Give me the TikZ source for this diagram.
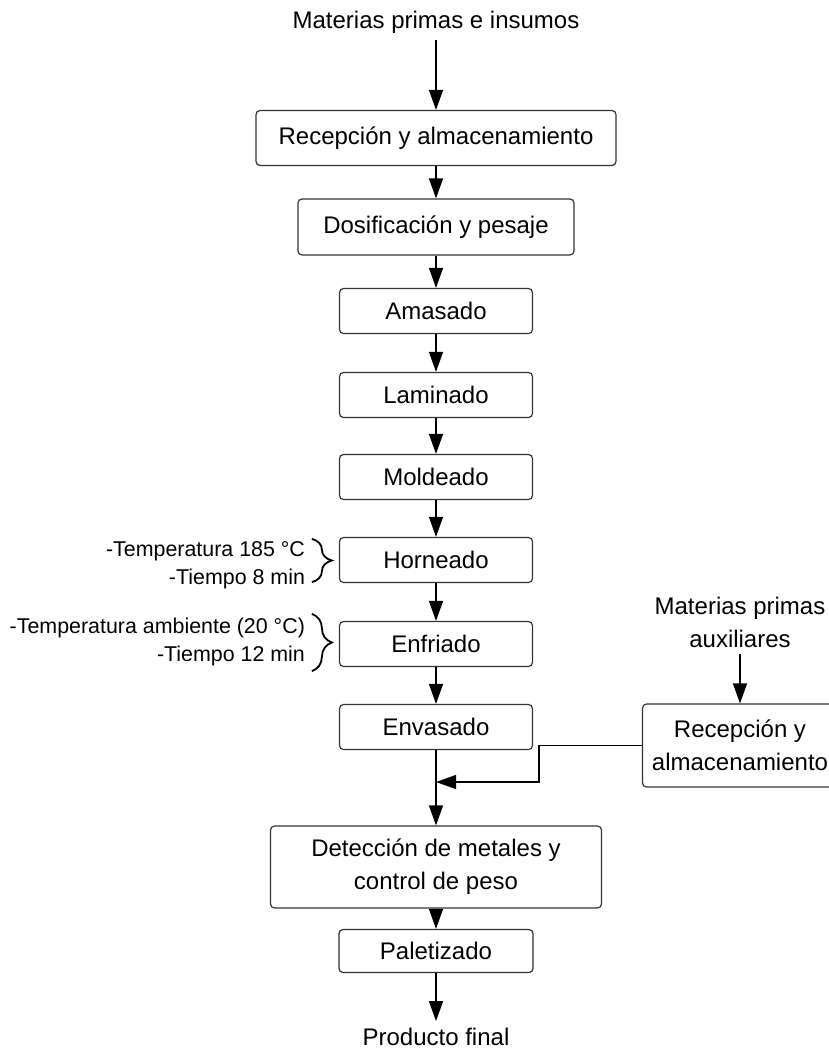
\documentclass[tikz,border=0pt]{standalone}
\usepackage{fontspec}
\setmainfont{Liberation Sans}
\usetikzlibrary{arrows.meta,decorations.pathreplacing}
\tikzstyle{arrow} = [-{Triangle[width=7pt,length=10pt]},line width=0.6pt]
\tikzstyle{proc} = [draw=black!80,line width=0.6pt,rounded corners=2pt,align=center,font=\fontsize{12}{16.5}\selectfont]
\tikzstyle{stage} = [proc,minimum width=96.5pt,minimum height=22.5pt]
\tikzstyle{plain} = [align=center,font=\fontsize{12}{16.5}\selectfont]
\tikzstyle{note} = [anchor=east,align=right,font=\fontsize{10.7}{13.8}\selectfont]
\tikzstyle{curly} = [decorate,decoration={brace,amplitude=10pt},line width=0.9pt]

\begin{document}
\begin{tikzpicture}[x=0.5pt,y=-0.5pt]
        \clip (0,0) rectangle (829,1049);
        % main line
        \node[plain] at (436,22) (insumos) {Materias primas e insumos};
        \node[proc, minimum width=180pt, minimum height=27.5pt] at (436,138) (recepcion) {Recepción y almacenamiento};
        \node[proc, minimum width=138pt, minimum height=28pt] at (436,227) (dosif) {Dosificación y pesaje};
        \node[stage] at (436,311) (amasado) {Amasado};
        \node[stage] at (436,395) (laminado) {Laminado};
        \node[stage] at (436,477) (moldeado) {Moldeado};
        \node[stage] at (436,560) (horneado) {Horneado};
        \node[stage] at (436,644) (enfriado) {Enfriado};
        \node[stage] at (436,727) (envasado) {Envasado};
        \node[proc, minimum width=165.5pt, minimum height=41pt] at (436,867) (deteccion) {Detección de metales y\\control de peso};
        \node[proc, minimum width=97pt, minimum height=21.5pt] at (436,951) (paletizado) {Paletizado};
        \node[plain] at (436,1037) (producto) {Producto final};

        % side line
        \node[plain] at (740,622) (auxiliares) {Materias primas\\auxiliares};
        \node[proc, minimum width=97.5pt, minimum height=41.5pt] at (740,745.5) (auxrecep) {Recepción y\\almacenamiento};
        \coordinate (bend) at (539,745.5);
        \coordinate (join) at (436,782);

        % conditions
        \node[note] at (312,565) (hornnote) {-Temperatura 185 °C\\-Tiempo 8 min};
        \node[note] at (312,642) (enfnote) {-Temperatura ambiente (20 °C)\\-Tiempo 12 min};
        \draw[curly] ([xshift=-13.5pt,yshift=-1pt]horneado.north west) -- ([xshift=-13.5pt,yshift=0.5pt]horneado.south west);
        \draw[curly] ([xshift=-13.5pt,yshift=3.5pt]enfriado.north west) -- ([xshift=-13.5pt,yshift=-2pt]enfriado.south west);

        \draw[arrow] (insumos) -- (recepcion);
        \draw[arrow] (recepcion) -- (dosif);
        \draw[arrow] (dosif) -- (amasado);
        \draw[arrow] (amasado) -- (laminado);
        \draw[arrow] (laminado) -- (moldeado);
        \draw[arrow] (moldeado) -- (horneado);
        \draw[arrow] (horneado) -- (enfriado);
        \draw[arrow] (enfriado) -- (envasado);
        \draw[arrow] (envasado) -- (deteccion);
        \draw[arrow] (deteccion) -- (paletizado);
        \draw[arrow] (paletizado) -- (producto);
        \draw[arrow] (auxiliares) -- (auxrecep);
        \draw[arrow] (auxrecep.west) -- (bend) |- (join);

\end{tikzpicture}
\end{document}
